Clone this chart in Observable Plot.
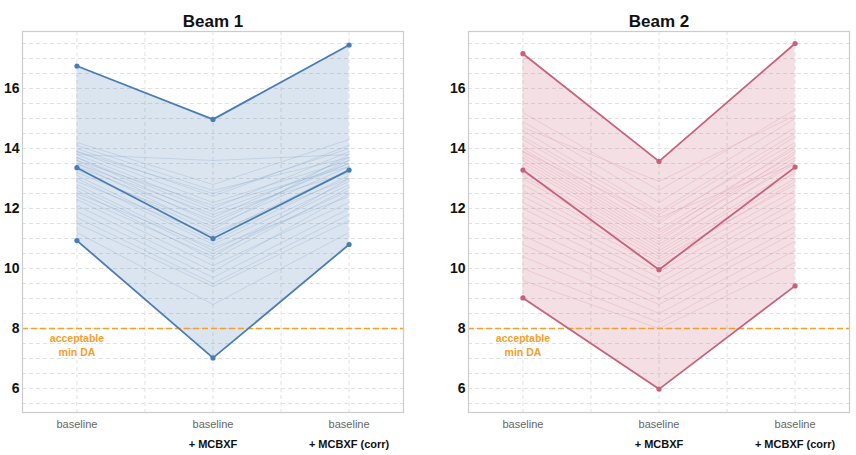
<!DOCTYPE html>
<html>
<head>
<meta charset="utf-8">
<script src="https://cdn.jsdelivr.net/npm/d3@7"></script>
<script src="https://cdn.jsdelivr.net/npm/@observablehq/plot@0.6"></script>
<style>
  html, body { margin: 0; padding: 0; background: #fff; }
  #wrap { display: flex; width: 856px; height: 455px; }
  #wrap svg { display: block; }
</style>
</head>
<body>
<div id="wrap"></div>
<script>
// ---- categories / tick labels ----
const stages = ["baseline", "baseline", "baseline"];
const stagesLine2 = ["", "+ MCBXF", "+ MCBXF (corr)"];
const yTicks = [6, 8, 10, 12, 14, 16];
const titles = ["Beam 1", "Beam 2"];
const minDA = 8;
const minDALabel = ["acceptable", "min DA"];

// ---- Beam 1 summary (min / median / max per stage) ----
const b1Max = [16.75, 14.97, 17.45];
const b1Med = [13.36, 11.0, 13.28];
const b1Min = [10.93, 7.02, 10.8];
// ---- Beam 1 individual seeds (baseline, +MCBXF, +MCBXF corr) ----
const b1SeedBase = [14.2, 14.0, 13.9, 13.8, 13.8, 13.7, 13.7, 13.6, 13.6, 13.5, 13.5, 13.4, 13.3, 13.2, 13.1, 13.0, 12.9, 12.8, 12.7, 12.6, 12.5, 12.3, 12.1, 11.9, 11.7, 11.5, 11.2, 12.4, 13.9, 14.1];
const b1SeedMid  = [12.8, 12.4, 12.2, 13.6, 12.0, 11.9, 11.7, 12.1, 11.5, 11.8, 11.3, 11.6, 11.2, 11.4, 10.9, 10.8, 11.1, 10.6, 10.5, 10.3, 10.7, 10.1, 9.9, 9.7, 9.5, 9.4, 8.8, 10.4, 12.5, 12.6];
const b1SeedCorr = [14.3, 14.1, 13.6, 13.8, 13.9, 13.5, 13.7, 13.4, 13.6, 13.2, 13.8, 13.5, 13.0, 13.4, 13.1, 12.9, 13.3, 12.8, 12.6, 12.7, 12.4, 12.2, 12.5, 12.0, 11.8, 11.6, 11.2, 13.0, 14.0, 13.7];

// ---- Beam 2 summary ----
const b2Max = [17.16, 13.57, 17.5];
const b2Med = [13.28, 9.96, 13.38];
const b2Min = [9.02, 5.98, 9.42];
// ---- Beam 2 individual seeds ----
const b2SeedBase = [15.2, 14.9, 14.6, 14.4, 14.3, 14.1, 14.0, 13.9, 13.8, 13.7, 13.6, 13.5, 13.4, 13.2, 13.1, 13.0, 12.8, 12.6, 12.4, 12.2, 12.0, 11.7, 11.4, 11.1, 10.8, 10.4, 10.0, 9.6, 14.7, 13.9];
const b2SeedMid  = [12.6, 12.2, 11.9, 11.8, 11.6, 11.5, 11.3, 11.2, 11.1, 11.0, 10.9, 10.8, 10.7, 10.6, 10.5, 10.4, 10.3, 10.2, 10.1, 9.9, 9.7, 9.5, 9.3, 9.0, 8.8, 8.5, 8.2, 8.0, 12.9, 11.7];
const b2SeedCorr = [15.3, 15.0, 14.7, 14.5, 14.2, 14.4, 14.0, 13.8, 14.1, 13.7, 13.9, 13.5, 13.6, 13.3, 13.2, 13.0, 12.8, 12.9, 12.6, 12.4, 12.2, 12.0, 11.7, 11.4, 11.2, 10.9, 10.6, 10.2, 15.1, 13.5];

const colors = [
  { line: "#4a7db4", seed: "#7f9fc4" },
  { line: "#c8617a", seed: "#d98ea0" }
];
const orange = "#f5a02a";
const FONT = "'Liberation Sans', Arial, Helvetica, sans-serif";

function panel(k, mx, md, mn, sb, sm, sc, opts) {
  const idx = [0, 1, 2];
  const env = idx.map(i => ({ i, lo: mn[i], hi: mx[i] }));
  const summ = [];
  [["max", mx], ["med", md], ["min", mn]].forEach(([name, arr]) =>
    idx.forEach(i => summ.push({ s: name, i, v: arr[i] })));
  const seeds = [];
  sb.forEach((v, j) => {
    seeds.push({ seed: j, i: 0, v: sb[j] });
    seeds.push({ seed: j, i: 1, v: sm[j] });
    seeds.push({ seed: j, i: 2, v: sc[j] });
  });
  const yGrid = d3.range(5.5, 17.9, 0.5);
  const xGrid = d3.range(0, 2.01, 0.5);
  const labels = idx.map(i => ({ i, a: stages[i], b: stagesLine2[i] }));
  const c = colors[k];
  return Plot.plot({
    width: 428,
    height: 455,
    marginLeft: opts.ml,
    marginRight: opts.mr,
    marginTop: 31,
    marginBottom: 43,
    style: { fontFamily: FONT, background: "#fff", overflow: "visible" },
    x: { domain: [-0.4, 2.4], axis: null },
    y: { domain: [5.2, 17.9], axis: null },
    marks: [
      Plot.ruleY(yGrid, { stroke: "#e2e2e2", strokeDasharray: "4,3", strokeWidth: 1 }),
      Plot.ruleX(xGrid, { stroke: "#e2e2e2", strokeDasharray: "4,3", strokeWidth: 1 }),
      Plot.areaY(env, { x: "i", y1: "lo", y2: "hi", fill: c.line, fillOpacity: 0.2 }),
      Plot.line(seeds, { x: "i", y: "v", z: "seed", stroke: c.seed, strokeWidth: 0.8, strokeOpacity: 0.35 }),
      Plot.ruleY([minDA], { stroke: orange, strokeDasharray: "6,3", strokeWidth: 1.5 }),
      Plot.line(summ, { x: "i", y: "v", z: "s", stroke: c.line, strokeWidth: 1.8 }),
      Plot.dot(summ, { x: "i", y: "v", r: 2.6, fill: c.line }),
      Plot.frame({ stroke: "#cccccc", strokeWidth: 1.2 }),
      Plot.axisY({ ticks: yTicks, tickSize: 0, tickPadding: 3, fontSize: 14, fontWeight: "bold", fill: "#111" }),
      Plot.text(labels, { x: "i", text: "a", frameAnchor: "bottom", dy: 12, lineAnchor: "middle", fontSize: 11, fill: "#666" }),
      Plot.text(labels, { x: "i", text: "b", frameAnchor: "bottom", dy: 32, lineAnchor: "middle", fontSize: 11, fontWeight: "bold", fill: "#111" }),
      Plot.text([minDALabel.join("\n")], { x: 0, y: minDA, dy: 3, lineAnchor: "top", lineHeight: 1.35, fontSize: 10.5, fontWeight: "bold", fill: orange, text: d => d }),
      Plot.text([titles[k]], { x: 1, frameAnchor: "top", dy: -10, lineAnchor: "middle", fontSize: 17, fontWeight: "bold", fill: "#111", text: d => d })
    ]
  });
}

const wrap = document.getElementById("wrap");
wrap.appendChild(panel(0, b1Max, b1Med, b1Min, b1SeedBase, b1SeedMid, b1SeedCorr, { ml: 22, mr: 25 }));
wrap.appendChild(panel(1, b2Max, b2Med, b2Min, b2SeedBase, b2SeedMid, b2SeedCorr, { ml: 40, mr: 7 }));
</script>
</body>
</html>
